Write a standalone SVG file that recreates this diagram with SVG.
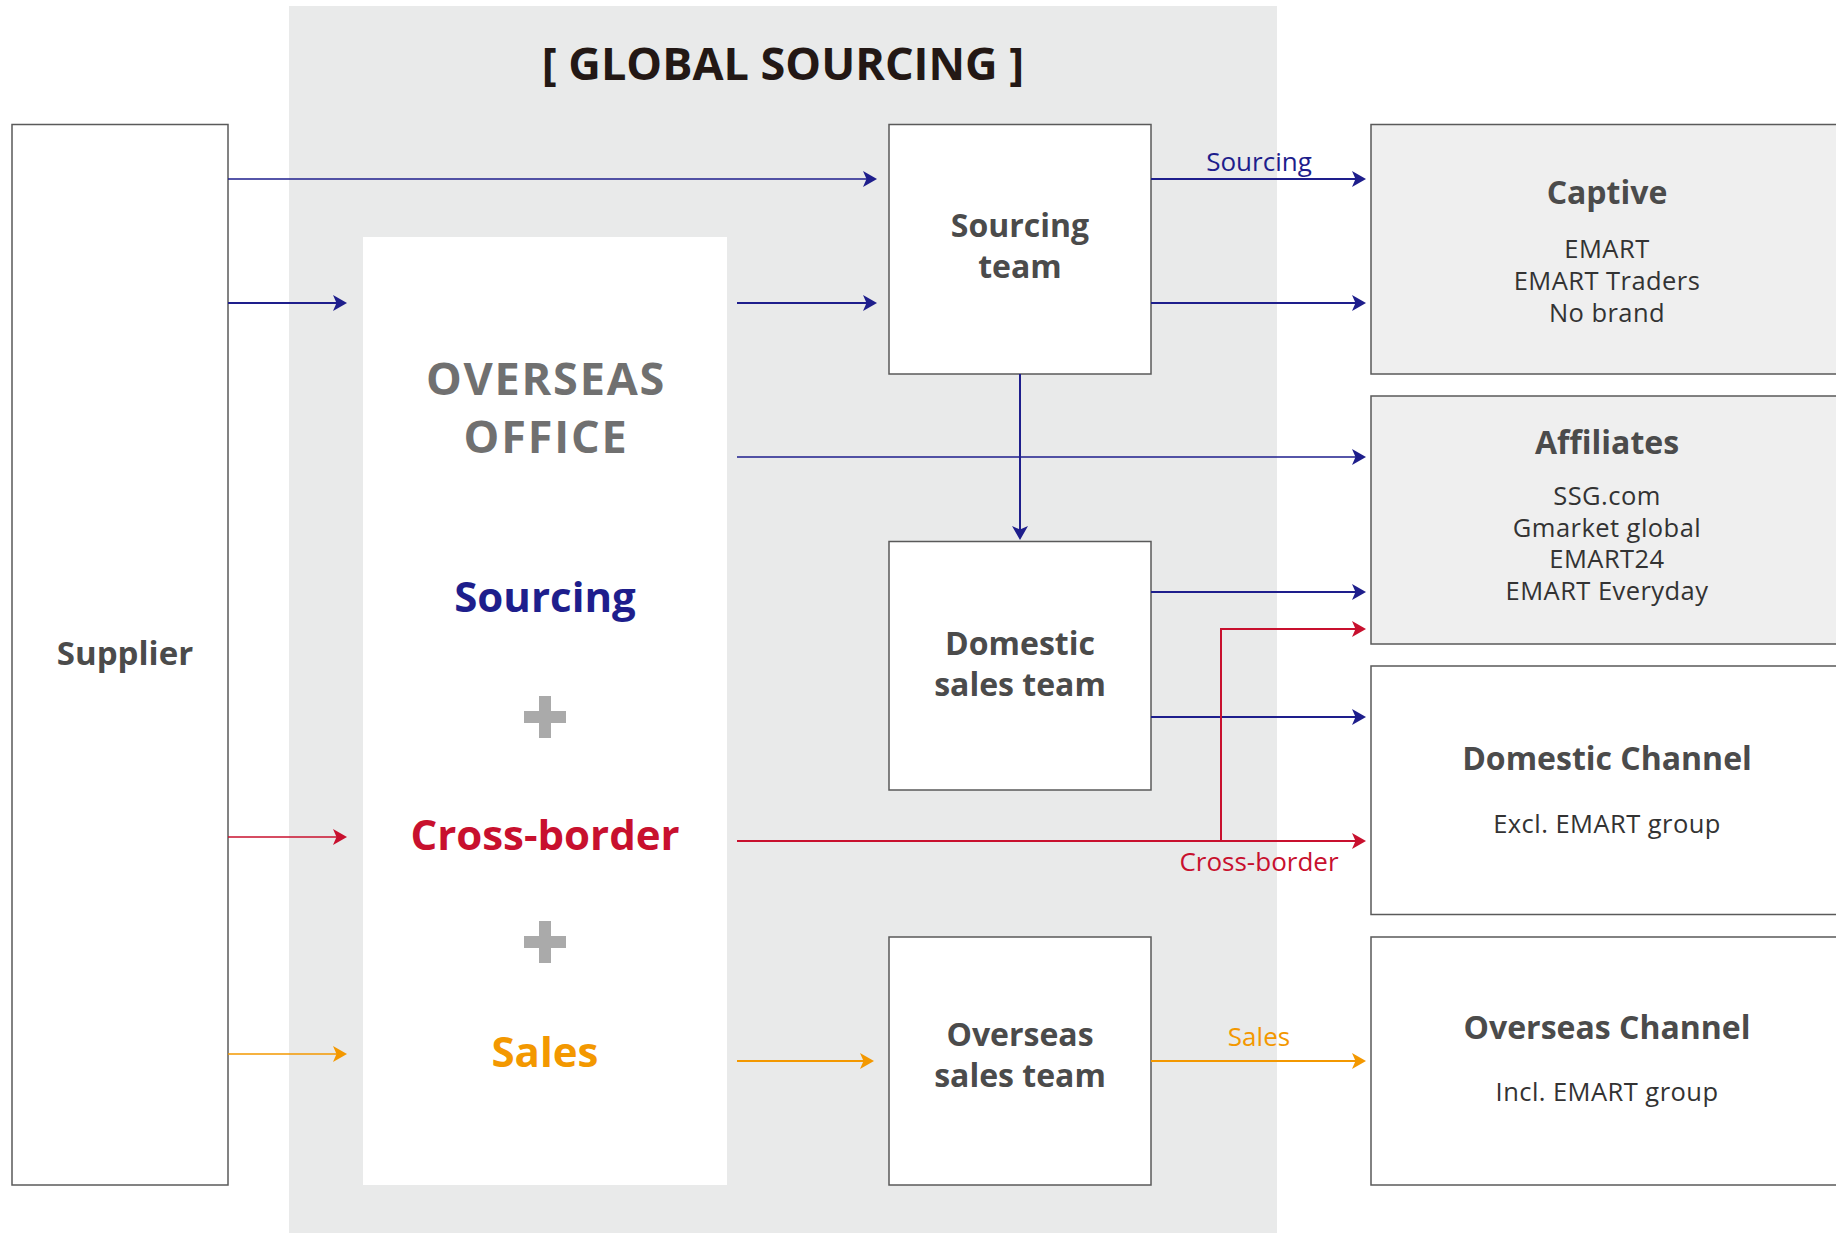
<svg xmlns="http://www.w3.org/2000/svg" width="1836" height="1233" viewBox="0 0 1836 1233">
<style>
.box{fill:#ffffff;stroke:#5a5a5a;stroke-width:1.5}
.gbox{fill:#efefef;stroke:#5a5a5a;stroke-width:1.5}
.t{font-family:"Open Sans","Liberation Sans",sans-serif;text-anchor:middle}
.b{font-weight:700}
.node{fill:#4b4b4b;font-size:32px}
.sub{fill:#333333;font-size:25.5px;letter-spacing:0.45px}
.office{font-size:42px}
.lbl{font-size:26px}
.blue{stroke:#1e1e8c;stroke-width:2;fill:none}
.red{stroke:#c8102e;stroke-width:2;fill:none}
.orange{stroke:#f39800;stroke-width:2;fill:none}
.thin{stroke-width:1.5}
</style>
<defs>
<marker id="ab" markerUnits="userSpaceOnUse" markerWidth="14" markerHeight="16" refX="4" refY="8" orient="auto"><path d="M0,0 L14,8 L0,16 L3.5,8 z" fill="#1e1e8c"/></marker>
<marker id="ar" markerUnits="userSpaceOnUse" markerWidth="14" markerHeight="16" refX="4" refY="8" orient="auto"><path d="M0,0 L14,8 L0,16 L3.5,8 z" fill="#c8102e"/></marker>
<marker id="ao" markerUnits="userSpaceOnUse" markerWidth="14" markerHeight="16" refX="4" refY="8" orient="auto"><path d="M0,0 L14,8 L0,16 L3.5,8 z" fill="#f39800"/></marker>
</defs>
<rect width="1836" height="1233" fill="#ffffff"/>
<g id="global-sourcing">
<rect x="289" y="6" width="988" height="1227" fill="#e9eaea"/>
<text class="t b" x="783" y="80" font-size="45" fill="#231815">[ GLOBAL SOURCING ]</text>
</g>
<g id="supplier">
<rect class="box" x="12" y="124.5" width="216" height="1060.5"/>
<text class="t b" x="125" y="665" font-size="33" fill="#4b4b4b">Supplier</text>
</g>
<g id="overseas-office">
<rect x="363" y="237" width="364" height="948" fill="#ffffff"/>
<text class="t b" x="546" y="395" font-size="45" letter-spacing="1.8" fill="#707070">OVERSEAS</text>
<text class="t b" x="546" y="453" font-size="45" letter-spacing="1.8" fill="#707070">OFFICE</text>
<text class="t b office" x="545" y="612" fill="#1e1e8c">Sourcing</text>
<path d="M524,717 H566 M545,696 V738" stroke="#aaaaaa" stroke-width="12" fill="none"/>
<text class="t b office" x="545" y="850" fill="#c8102e">Cross-border</text>
<path d="M524,942 H566 M545,921 V963" stroke="#aaaaaa" stroke-width="12" fill="none"/>
<text class="t b office" x="545" y="1067" fill="#f39800">Sales</text>
</g>
<g id="sourcing-team">
<rect class="box" x="889" y="124.5" width="262" height="249.5"/>
<text class="t b node" x="1020" y="237">Sourcing</text>
<text class="t b node" x="1020" y="278">team</text>
</g>
<g id="domestic-sales-team">
<rect class="box" x="889" y="541.5" width="262" height="248.5"/>
<text class="t b node" x="1020" y="655">Domestic</text>
<text class="t b node" x="1020" y="696">sales team</text>
</g>
<g id="overseas-sales-team">
<rect class="box" x="889" y="937" width="262" height="248"/>
<text class="t b node" x="1020" y="1046">Overseas</text>
<text class="t b node" x="1020" y="1087">sales team</text>
</g>
<g id="captive">
<rect class="gbox" x="1371" y="124.5" width="480" height="249.5"/>
<text class="t b node" x="1607" y="204">Captive</text>
<text class="t sub" x="1607" y="258">EMART</text>
<text class="t sub" x="1607" y="290">EMART Traders</text>
<text class="t sub" x="1607" y="322">No brand</text>
</g>
<g id="affiliates">
<rect class="gbox" x="1371" y="396" width="480" height="248"/>
<text class="t b node" x="1607" y="454">Affiliates</text>
<text class="t sub" x="1607" y="505">SSG.com</text>
<text class="t sub" x="1607" y="537">Gmarket global</text>
<text class="t sub" x="1607" y="568">EMART24</text>
<text class="t sub" x="1607" y="600">EMART Everyday</text>
</g>
<g id="domestic-channel">
<rect class="box" x="1371" y="666" width="480" height="248.5"/>
<text class="t b node" x="1607" y="770">Domestic Channel</text>
<text class="t sub" x="1607" y="833">Excl. EMART group</text>
</g>
<g id="overseas-channel">
<rect class="box" x="1371" y="937" width="480" height="248"/>
<text class="t b node" x="1607" y="1039">Overseas Channel</text>
<text class="t sub" x="1607" y="1101">Incl. EMART group</text>
</g>
<g id="connectors">
<path class="blue thin" d="M228,179 H867" marker-end="url(#ab)"/>
<path class="blue" d="M228,303 H337" marker-end="url(#ab)"/>
<path class="blue" d="M737,303 H867" marker-end="url(#ab)"/>
<path class="blue" d="M1151,179 H1356" marker-end="url(#ab)"/>
<path class="blue" d="M1151,303 H1356" marker-end="url(#ab)"/>
<path class="blue thin" d="M737,457 H1356" marker-end="url(#ab)"/>
<path class="blue" d="M1020,374 V530" marker-end="url(#ab)"/>
<path class="blue" d="M1151,592 H1356" marker-end="url(#ab)"/>
<path class="blue" d="M1151,717 H1356" marker-end="url(#ab)"/>
<path class="red" d="M1221,841 V629 H1356" marker-end="url(#ar)"/>
<path class="red" d="M737,841 H1356" marker-end="url(#ar)"/>
<path class="red thin" d="M228,837 H337" marker-end="url(#ar)"/>
<path class="orange thin" d="M228,1054 H337" marker-end="url(#ao)"/>
<path class="orange" d="M737,1061 H864" marker-end="url(#ao)"/>
<path class="orange" d="M1151,1061 H1356" marker-end="url(#ao)"/>
<text class="t lbl" x="1259" y="171" fill="#1e1e8c">Sourcing</text>
<text class="t lbl" x="1259" y="871" fill="#c8102e">Cross-border</text>
<text class="t lbl" x="1259" y="1046" fill="#f39800">Sales</text>
</g>
</svg>
